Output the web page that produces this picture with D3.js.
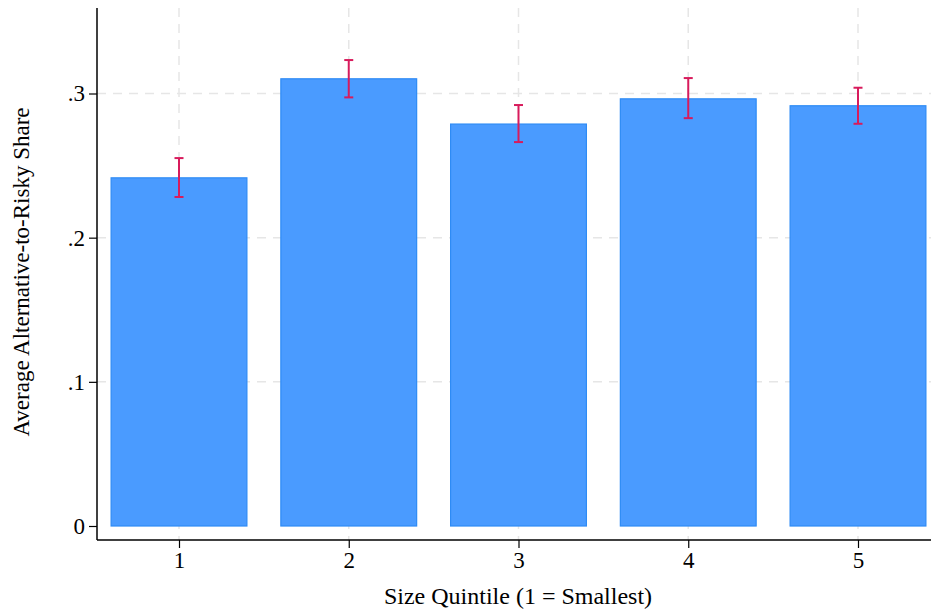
<!DOCTYPE html>
<html>
<head>
<meta charset="utf-8">
<script src="https://cdn.jsdelivr.net/npm/d3@7"></script>
<style>
  body { margin: 0; background: #fff; }
  svg { display: block; font-family: "Liberation Serif", "DejaVu Serif", serif; }
</style>
</head>
<body>
<div id="chart"></div>
<script>
var quintiles = [1, 2, 3, 4, 5];
var shares = [0.2415, 0.3102, 0.2788, 0.2963, 0.2915];
var ciLow = [0.2282, 0.2973, 0.2663, 0.2829, 0.2790];
var ciHigh = [0.2552, 0.3232, 0.2920, 0.3107, 0.3040];
var yTicks = [0, 0.1, 0.2, 0.3];
var yTickLabels = ["0", ".1", ".2", ".3"];

var width = 931, height = 611;

var x = d3.scaleLinear()
          .domain([1, 5])
          .range([179, 858]);
var y = d3.scaleLinear()
          .domain([0, 0.3])
          .range([526, 93.5]);

var barWidth = (x(2) - x(1)) * 0.8;
var plotTop = 8, plotBottom = 540, plotLeft = 97, plotRight = 931;

var svg = d3.select("#chart").append("svg")
    .attr("width", width)
    .attr("height", height);

// grid
var grid = svg.append("g").attr("class", "grid")
    .attr("stroke", "#e6e6e6")
    .attr("stroke-width", 1.5)
    .attr("stroke-dasharray", "9,7");

grid.selectAll(".hgrid")
    .data(yTicks.slice(1))
  .enter().append("line")
    .attr("x1", plotLeft)
    .attr("x2", plotRight)
    .attr("y1", function(d) { return y(d); })
    .attr("y2", function(d) { return y(d); });

grid.selectAll(".vgrid")
    .data(quintiles)
  .enter().append("line")
    .attr("x1", function(d) { return x(d); })
    .attr("x2", function(d) { return x(d); })
    .attr("y1", plotTop)
    .attr("y2", plotBottom);

// bars
svg.selectAll(".bar")
    .data(quintiles)
  .enter().append("rect")
    .attr("class", "bar")
    .attr("fill", "#4a9bff")
    .attr("stroke", "#2e8bf5")
    .attr("stroke-width", 1.2)
    .attr("x", function(d) { return x(d) - barWidth / 2; })
    .attr("width", barWidth)
    .attr("y", function(d, i) { return y(shares[i]); })
    .attr("height", function(d, i) { return y(0) - y(shares[i]); });

// error bars
var err = svg.append("g")
    .attr("stroke", "#d81b5c")
    .attr("stroke-width", 2);

quintiles.forEach(function(d, i) {
  var cx = x(d);
  err.append("line")
     .attr("x1", cx).attr("x2", cx)
     .attr("y1", y(ciLow[i])).attr("y2", y(ciHigh[i]));
  err.append("line")
     .attr("x1", cx - 4.5).attr("x2", cx + 4.5)
     .attr("y1", y(ciLow[i])).attr("y2", y(ciLow[i]));
  err.append("line")
     .attr("x1", cx - 4.5).attr("x2", cx + 4.5)
     .attr("y1", y(ciHigh[i])).attr("y2", y(ciHigh[i]));
});

// axes
var yAxis = d3.axisLeft(y)
    .tickValues(yTicks)
    .tickFormat(function(d, i) { return yTickLabels[i]; })
    .tickSize(8)
    .tickPadding(4);

var xAxis = d3.axisBottom(x)
    .tickValues(quintiles)
    .tickFormat(d3.format("d"))
    .tickSize(8)
    .tickPadding(4);

var yg = svg.append("g")
    .attr("transform", "translate(" + plotLeft + ",0)")
    .call(yAxis);
yg.select(".domain").remove();
yg.append("line")
    .attr("x1", 0).attr("x2", 0)
    .attr("y1", plotTop).attr("y2", plotBottom)
    .attr("stroke", "#000").attr("stroke-width", 1.5);

var xg = svg.append("g")
    .attr("transform", "translate(0," + plotBottom + ")")
    .call(xAxis);
xg.select(".domain").remove();
xg.append("line")
    .attr("x1", plotLeft).attr("x2", plotRight)
    .attr("y1", 0).attr("y2", 0)
    .attr("stroke", "#000").attr("stroke-width", 1.5);

svg.selectAll(".tick text")
    .attr("font-family", "Liberation Serif")
    .attr("font-size", 23)
    .attr("fill", "#000");
svg.selectAll(".tick line")
    .attr("stroke", "#000")
    .attr("stroke-width", 1.2);

// titles
svg.append("text")
    .attr("x", 518)
    .attr("y", 604)
    .attr("text-anchor", "middle")
    .attr("font-size", 24)
    .text("Size Quintile (1 = Smallest)");

svg.append("text")
    .attr("transform", "translate(29,272) rotate(-90)")
    .attr("text-anchor", "middle")
    .attr("font-size", 23)
    .text("Average Alternative-to-Risky Share");
</script>
</body>
</html>
